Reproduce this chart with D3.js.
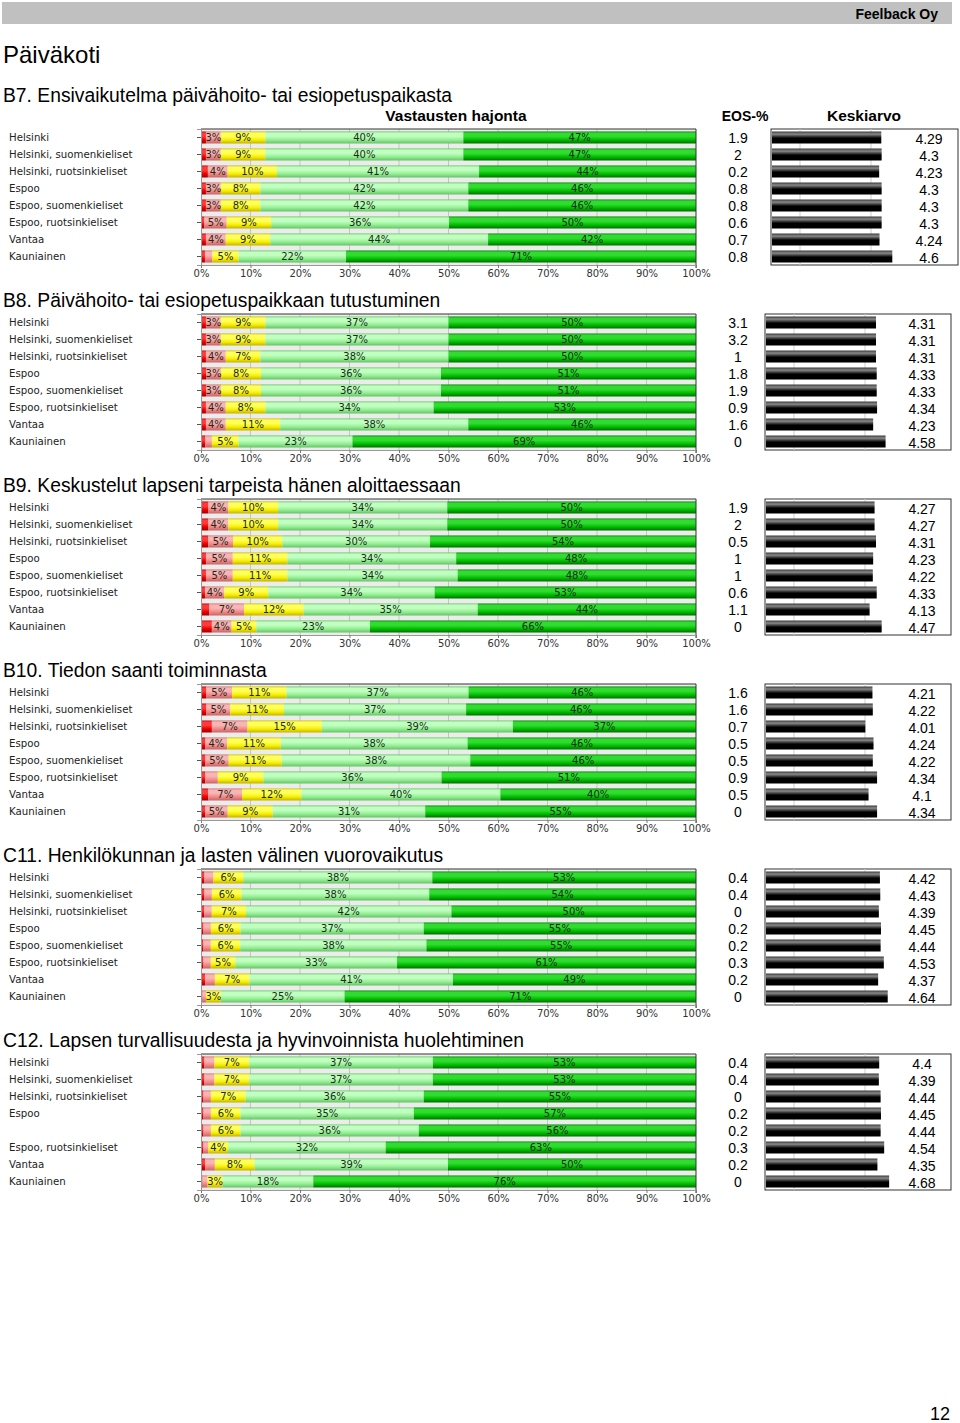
<!DOCTYPE html>
<html>
<head>
<meta charset="utf-8">
<script src="https://cdn.jsdelivr.net/npm/d3@7"></script>
<style>
  body { margin: 0; background: #fff; }
  svg { display: block; }
</style>
</head>
<body>
<svg id="page"></svg>
<script>
const [WIDTH, HEIGHT] = [960, 1423]
const SECTION_STEP = 185
const ROW_STEP = 17
const [BAR_LEFT, BAR_RIGHT] = [201, 696]

// data
const categories = [
  "Helsinki", "Helsinki, suomenkieliset", "Helsinki, ruotsinkieliset", "Espoo",
  "Espoo, suomenkieliset", "Espoo, ruotsinkieliset", "Vantaa", "Kauniainen"
]
// the last question on the page leaves one row label empty
const categoriesC12 = [
  "Helsinki", "Helsinki, suomenkieliset", "Helsinki, ruotsinkieliset", "Espoo",
  "", "Espoo, ruotsinkieliset", "Vantaa", "Kauniainen"
]
const sectionTitles = [
  "B7. Ensivaikutelma päivähoito- tai esiopetuspaikasta",
  "B8. Päivähoito- tai esiopetuspaikkaan tutustuminen",
  "B9. Keskustelut lapseni tarpeista hänen aloittaessaan",
  "B10. Tiedon saanti toiminnasta",
  "C11. Henkilökunnan ja lasten välinen vuorovaikutus",
  "C12. Lapsen turvallisuudesta ja hyvinvoinnista huolehtiminen"
]
// answer shares per row: [very poor, poor, moderate, good, very good] in %
const b7Shares = [
  [1, 3, 9, 40, 47], [1, 3, 9, 40, 47], [1.4, 4, 10, 41, 44], [1, 3, 8, 42, 46],
  [1, 3, 8, 42, 46], [0.7, 4.5, 9, 36, 50], [1, 4, 9, 44, 42], [0.8, 1.5, 5.3, 21.7, 70.7]
]
const b8Shares = [
  [1, 3, 9, 37, 50], [1, 3, 9, 37, 50], [1, 4, 7, 38, 50], [1, 3, 8, 36, 51],
  [1, 3, 8, 36, 51], [1, 4, 8, 34, 53], [1, 4, 11, 38, 46], [0.9, 1.3, 5.4, 23, 69.4]
]
const b9Shares = [
  [1.5, 4, 10, 34, 50], [1.5, 4, 10, 34, 50], [1.5, 5, 10, 30, 54], [1, 5.4, 11, 34, 48.3],
  [1, 5.4, 11, 34.3, 48], [0.8, 3.9, 8.9, 33.6, 52.8], [1.7, 7, 12, 35.2, 44.1], [2.2, 4, 5, 23, 66]
]
const b10Shares = [
  [1.1, 5.2, 11, 36.8, 46], [1.1, 4.8, 10.8, 36.7, 46.3], [2.2, 7.2, 15, 38.6, 37], [0.9, 4.4, 10.8, 37.7, 46.1],
  [0.9, 4.7, 10.7, 38.1, 45.6], [0.9, 2.5, 9.2, 36, 51.4], [1.5, 6.8, 12, 40.3, 39.6], [0.9, 4.5, 9.1, 30.8, 54.7]
]
const c11Shares = [
  [0.7, 1.8, 6, 38, 53], [0.7, 1.5, 6, 38, 54], [0.7, 1.5, 7, 42, 50], [0.5, 1.5, 6, 37, 55],
  [0.5, 1.5, 6, 38, 55], [0.5, 1.5, 5, 33, 61], [0.8, 2, 7, 41, 49], [0.3, 0.7, 3, 25, 71]
]
const c12Shares = [
  [0.7, 2, 7, 37, 53], [0.7, 2, 7, 37, 53], [0.5, 1.5, 7, 36, 55], [0.5, 1.5, 6, 35, 57],
  [0.5, 1.5, 6, 36, 56], [0.5, 1, 4, 32, 63], [0.8, 2, 8, 39, 50], [0.3, 1, 3, 18, 76]
]
const b7Eos = [1.9, 2, 0.2, 0.8, 0.8, 0.6, 0.7, 0.8]
const b8Eos = [3.1, 3.2, 1, 1.8, 1.9, 0.9, 1.6, 0]
const b9Eos = [1.9, 2, 0.5, 1, 1, 0.6, 1.1, 0]
const b10Eos = [1.6, 1.6, 0.7, 0.5, 0.5, 0.9, 0.5, 0]
const c11Eos = [0.4, 0.4, 0, 0.2, 0.2, 0.3, 0.2, 0]
const c12Eos = [0.4, 0.4, 0, 0.2, 0.2, 0.3, 0.2, 0]
const b7Means = [4.29, 4.3, 4.23, 4.3, 4.3, 4.3, 4.24, 4.6]
const b8Means = [4.31, 4.31, 4.31, 4.33, 4.33, 4.34, 4.23, 4.58]
const b9Means = [4.27, 4.27, 4.31, 4.23, 4.22, 4.33, 4.13, 4.47]
const b10Means = [4.21, 4.22, 4.01, 4.24, 4.22, 4.34, 4.1, 4.34]
const c11Means = [4.42, 4.43, 4.39, 4.45, 4.44, 4.53, 4.37, 4.64]
const c12Means = [4.4, 4.39, 4.44, 4.45, 4.44, 4.54, 4.35, 4.68]
const percentTicks = [0, 0.1, 0.2, 0.3, 0.4, 0.5, 0.6, 0.7, 0.8, 0.9, 1]
const meanGridTicks = [2, 4]

const sections = [
  { title: sectionTitles[0], labels: categories, shares: b7Shares, eos: b7Eos, means: b7Means },
  { title: sectionTitles[1], labels: categories, shares: b8Shares, eos: b8Eos, means: b8Means },
  { title: sectionTitles[2], labels: categories, shares: b9Shares, eos: b9Eos, means: b9Means },
  { title: sectionTitles[3], labels: categories, shares: b10Shares, eos: b10Eos, means: b10Means },
  { title: sectionTitles[4], labels: categories, shares: c11Shares, eos: c11Eos, means: c11Means },
  { title: sectionTitles[5], labels: categoriesC12, shares: c12Shares, eos: c12Eos, means: c12Means }
]

// [edge, highlight, body, bottom] for each answer class
const SEGMENT_SHADES = [
  ["#b40000", "#ff3a3a", "#e80000", "#a00000"],
  ["#d06a6a", "#f9b4b4", "#f08888", "#c86464"],
  ["#c8be00", "#ffff5a", "#f6ee00", "#c2b400"],
  ["#62c462", "#c0ffc0", "#94ee94", "#64c464"],
  ["#007a00", "#30dc30", "#00bc00", "#007000"]
]

const FONT_LABEL = "'DejaVu Sans', Verdana, sans-serif"
const FONT_HEAD = "'Liberation Sans', Arial, sans-serif"

const svg = d3.select("#page")
  .attr("width", WIDTH)
  .attr("height", HEIGHT)
  .attr("viewBox", `0 0 ${WIDTH} ${HEIGHT}`)

const defs = svg.append("defs")

const addVerticalGradient = (id, stops) => {
  const gradient = defs.append("linearGradient")
    .attr("id", id)
    .attr("x1", "0%").attr("x2", "0%")
    .attr("y1", "0%").attr("y2", "100%")
  stops.forEach(([offset, color]) => {
    gradient.append("stop").attr("offset", offset).attr("stop-color", color)
  })
}

SEGMENT_SHADES.forEach((shade, i) => {
  addVerticalGradient(`seg_${i}`, [
    ["0%", shade[0]], ["12%", shade[1]], ["40%", shade[1]], ["70%", shade[2]], ["100%", shade[3]]
  ])
})
addVerticalGradient("meanBar", [
  ["0%", "#3a3a3a"], ["22%", "#8a8a8a"], ["55%", "#000"], ["100%", "#000"]
])

// page header
svg.append("rect")
  .attr("x", 2).attr("y", 2)
  .attr("width", 950).attr("height", 22)
  .attr("fill", "#c0c0c0")
svg.append("text")
  .attr("x", 938).attr("y", 19)
  .attr("text-anchor", "end")
  .attr("font-family", FONT_HEAD)
  .attr("font-weight", "bold")
  .attr("font-size", 14)
  .text("Feelback Oy")
svg.append("text")
  .attr("x", 3).attr("y", 63)
  .attr("font-family", FONT_HEAD)
  .attr("font-size", 24)
  .text("Päiväkoti")

// column headers above the first question
const headers = [
  { text: "Vastausten hajonta", x: 456, size: 15.5 },
  { text: "EOS-%", x: 745, size: 14 },
  { text: "Keskiarvo", x: 864, size: 15.5 }
]
svg.selectAll("text.col-header")
  .data(headers)
  .enter()
  .append("text")
  .classed("col-header", true)
  .attr("x", (d) => d.x)
  .attr("y", 121)
  .attr("text-anchor", "middle")
  .attr("font-family", FONT_HEAD)
  .attr("font-weight", "bold")
  .attr("font-size", (d) => d.size)
  .text((d) => d.text)

const x = d3.scaleLinear().domain([0, 1]).range([BAR_LEFT, BAR_RIGHT])
const stack = d3.stack().keys([0, 1, 2, 3, 4]).offset(d3.stackOffsetExpand)

const drawSection = (section, s) => {
  const plotTop = 129 + SECTION_STEP * s
  const plotBottom = plotTop + ROW_STEP * 8
  const g = svg.append("g").classed("section", true)

  g.append("text")
    .attr("x", 3)
    .attr("y", s === 0 ? 102 : 122 + SECTION_STEP * s)
    .attr("font-family", FONT_HEAD)
    .attr("font-size", 19.3)
    .text(section.title)

  const y = d3.scaleBand()
    .domain(d3.range(8))
    .range([plotTop, plotBottom])
    .paddingInner(5 / 17)
    .paddingOuter(2.5 / 17)

  // plot background and grid
  g.append("rect")
    .attr("x", BAR_LEFT).attr("y", plotTop)
    .attr("width", BAR_RIGHT - BAR_LEFT).attr("height", plotBottom - plotTop)
    .attr("fill", "#ececec")
  g.selectAll("line.grid")
    .data(percentTicks.slice(1, -1))
    .enter()
    .append("line")
    .classed("grid", true)
    .attr("x1", (d) => x(d)).attr("x2", (d) => x(d))
    .attr("y1", plotTop).attr("y2", plotBottom)
    .attr("stroke", "#c4c4c4")

  const series = stack(section.shares)
  const layers = g.selectAll("g.layer")
    .data(series)
    .enter()
    .append("g")
    .classed("layer", true)
    .attr("fill", (d) => `url(#seg_${d.key})`)
  layers.selectAll("rect")
    .data((d) => d)
    .enter()
    .append("rect")
    .attr("x", (d) => x(d[0]))
    .attr("y", (d, i) => y(i))
    .attr("width", (d) => x(d[1]) - x(d[0]))
    .attr("height", y.bandwidth())

  // percentage labels on the answer classes other than the first
  const segLabels = []
  series.forEach((layer) => {
    if (layer.key === 0) return
    layer.forEach((d, i) => {
      const share = section.shares[i][layer.key]
      if (share >= 3) segLabels.push({ x: x((d[0] + d[1]) / 2), y: y(i) + y.bandwidth() / 2, text: `${Math.round(share)}%` })
    })
  })
  g.selectAll("text.seg-label")
    .data(segLabels)
    .enter()
    .append("text")
    .classed("seg-label", true)
    .attr("x", (d) => d.x)
    .attr("y", (d) => d.y)
    .attr("dy", "0.36em")
    .attr("text-anchor", "middle")
    .attr("font-family", FONT_LABEL)
    .attr("font-size", 10)
    .attr("fill", "#1a2a1a")
    .text((d) => d.text)

  // frame: dark top and right edges
  g.append("path")
    .attr("d", `M${BAR_LEFT},${plotTop}H${BAR_RIGHT}V${plotBottom + 3}`)
    .attr("fill", "none")
    .attr("stroke", "#333")

  const xAxis = g.append("g")
    .attr("transform", `translate(0,${plotBottom})`)
    .call(d3.axisBottom(x).tickValues(percentTicks).tickFormat((d) => `${Math.round(d * 100)}%`).tickSize(3).tickPadding(2))
  xAxis.select(".domain").attr("stroke", "#999")
  xAxis.selectAll(".tick line").attr("stroke", "#777")
  xAxis.selectAll("text")
    .attr("font-family", FONT_LABEL)
    .attr("font-size", 10)
    .attr("fill", "#333")

  const yAxis = g.append("g")
    .attr("transform", `translate(${BAR_LEFT},0)`)
    .call(d3.axisLeft(y).tickSize(4).tickFormat(""))
  yAxis.select(".domain").attr("stroke", "#999")
  yAxis.selectAll(".tick line").attr("stroke", "#555")

  g.selectAll("text.row-label")
    .data(section.labels)
    .enter()
    .append("text")
    .classed("row-label", true)
    .attr("x", 9)
    .attr("y", (d, i) => y(i) + y.bandwidth() / 2)
    .attr("dy", "0.36em")
    .attr("font-family", FONT_LABEL)
    .attr("font-size", 10.2)
    .attr("fill", "#222")
    .text((d) => d)

  // EOS-% column
  g.selectAll("text.eos")
    .data(section.eos)
    .enter()
    .append("text")
    .classed("eos", true)
    .attr("x", 738)
    .attr("y", (d, i) => y(i) + y.bandwidth() / 2)
    .attr("dy", "0.36em")
    .attr("text-anchor", "middle")
    .attr("font-family", FONT_HEAD)
    .attr("font-size", 14)
    .text((d) => d)

  // mean panel
  const boxLeft = s === 0 ? 771 : 765
  const boxWidth = s === 0 ? 187 : 186
  const mx = d3.scaleLinear().domain([2, 4]).range([boxLeft + 29, boxLeft + 100])
  g.append("rect")
    .attr("x", boxLeft).attr("y", plotTop)
    .attr("width", boxWidth).attr("height", plotBottom - plotTop)
    .attr("fill", "#fff")
    .attr("stroke", "#333")
  g.selectAll("line.mgrid")
    .data(meanGridTicks)
    .enter()
    .append("line")
    .classed("mgrid", true)
    .attr("x1", (d) => mx(d)).attr("x2", (d) => mx(d))
    .attr("y1", plotTop).attr("y2", plotBottom)
    .attr("stroke", "#cfcfcf")
  g.selectAll("rect.mean")
    .data(section.means)
    .enter()
    .append("rect")
    .classed("mean", true)
    .attr("x", boxLeft + 1)
    .attr("y", (d, i) => y(i))
    .attr("width", (d) => mx(d) - boxLeft - 1)
    .attr("height", y.bandwidth())
    .attr("fill", "url(#meanBar)")
  g.selectAll("text.mean-value")
    .data(section.means)
    .enter()
    .append("text")
    .classed("mean-value", true)
    .attr("x", boxLeft + boxWidth - 29)
    .attr("y", (d, i) => y(i) + y.bandwidth() / 2 + 1)
    .attr("dy", "0.36em")
    .attr("text-anchor", "middle")
    .attr("font-family", FONT_HEAD)
    .attr("font-size", 14)
    .text((d) => d)
}

sections.forEach(drawSection)

svg.append("text")
  .attr("x", 950).attr("y", 1420)
  .attr("text-anchor", "end")
  .attr("font-family", FONT_HEAD)
  .attr("font-size", 18)
  .text("12")
</script>
</body>
</html>
